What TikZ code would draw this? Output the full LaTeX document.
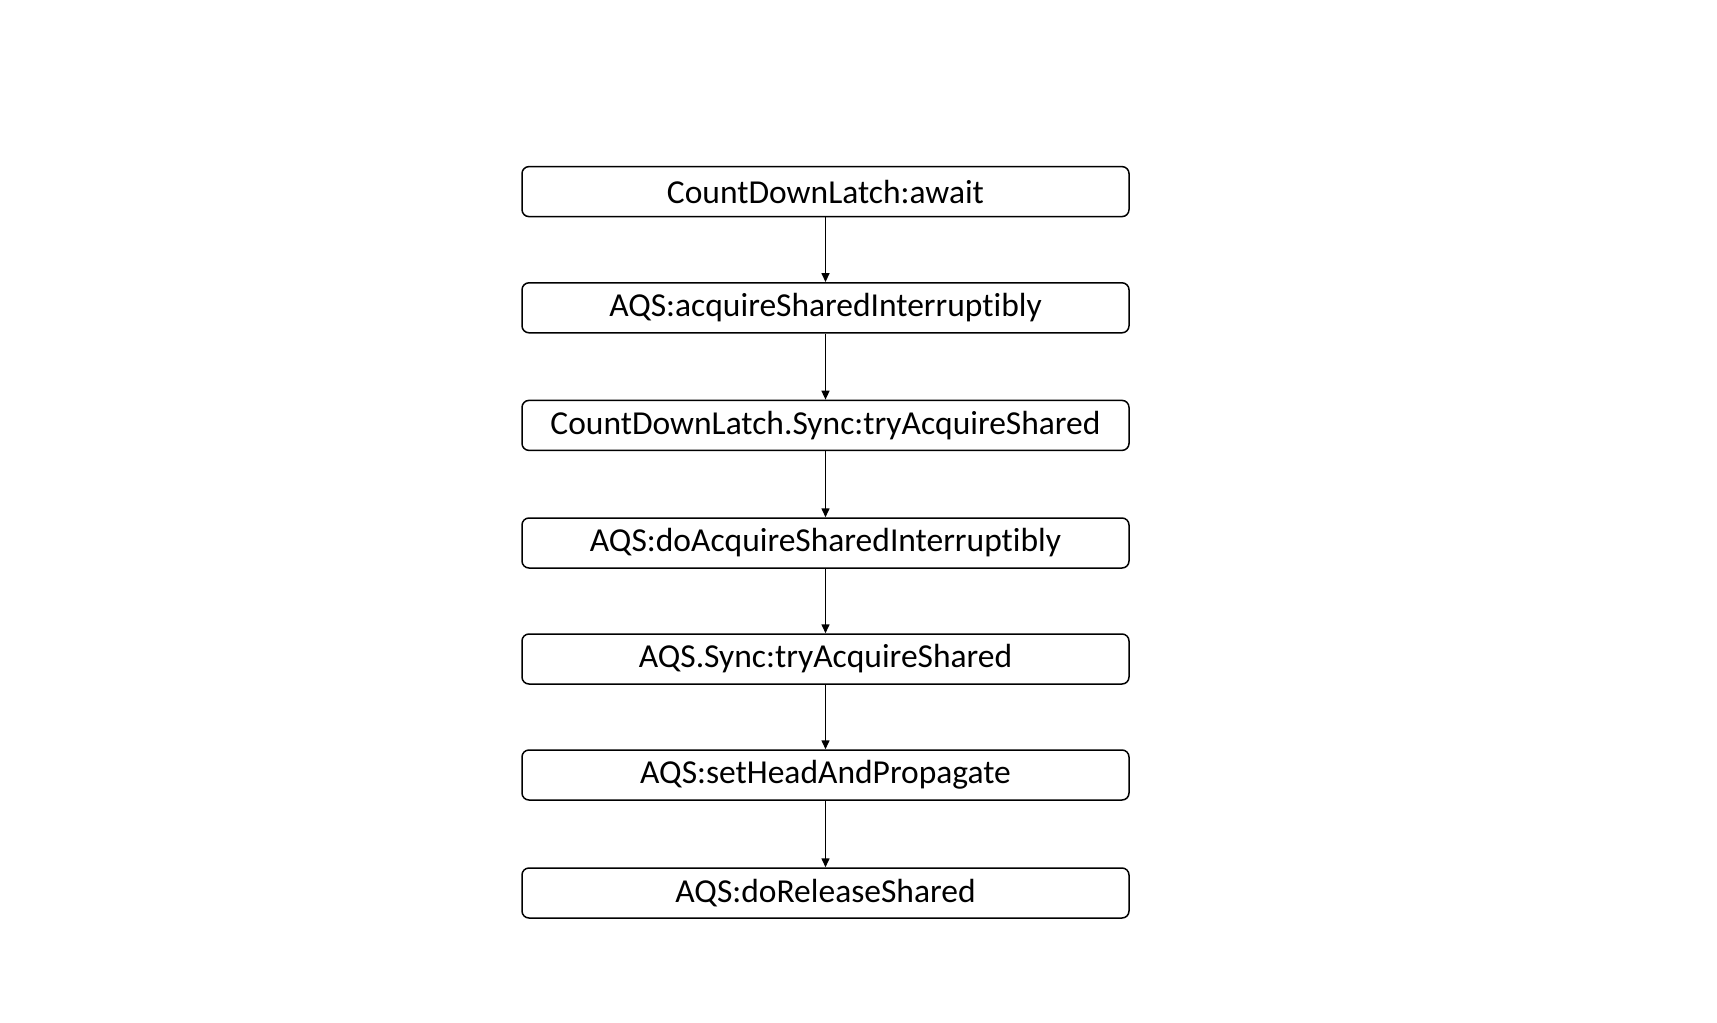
\documentclass[tikz,border=0pt]{standalone}
\usepackage{fontspec}
\setmainfont{Carlito}[Ligatures=NoCommon]
\usetikzlibrary{arrows.meta}
\begin{document}
\begin{tikzpicture}[x=1pt,y=-1pt,
  stepbox/.style={draw=black, line width=1.5pt, rounded corners=7pt, minimum width=607pt, minimum height=50pt, inner sep=0pt, font=\fontsize{33.5}{33.5}\selectfont, fill=white},
  link/.style={draw=black, line width=1.5pt, -{Triangle[length=9pt,width=8pt]}}]
\useasboundingbox (0,0) rectangle (1717,1023);
\fill[white] (0,0) rectangle (1717,1023);
\node[stepbox] (n1) at (825.5,191.6) {CountDownLatch:await};
\node[stepbox] (n2) at (825.5,307.8) {AQS:acquireSharedInterruptibly};
\node[stepbox] (n3) at (825.5,425.4) {CountDownLatch.Sync:tryAcquireShared};
\node[stepbox] (n4) at (825.5,543) {AQS:doAcquireSharedInterruptibly};
\node[stepbox] (n5) at (825.5,659) {AQS.Sync:tryAcquireShared};
\node[stepbox] (n6) at (825.5,775) {AQS:setHeadAndPropagate};
\node[stepbox] (n7) at (825.5,893) {AQS:doReleaseShared};
\draw[link] (n1) -- (n2);
\draw[link] (n2) -- (n3);
\draw[link] (n3) -- (n4);
\draw[link] (n4) -- (n5);
\draw[link] (n5) -- (n6);
\draw[link] (n6) -- (n7);
\end{tikzpicture}
\end{document}
